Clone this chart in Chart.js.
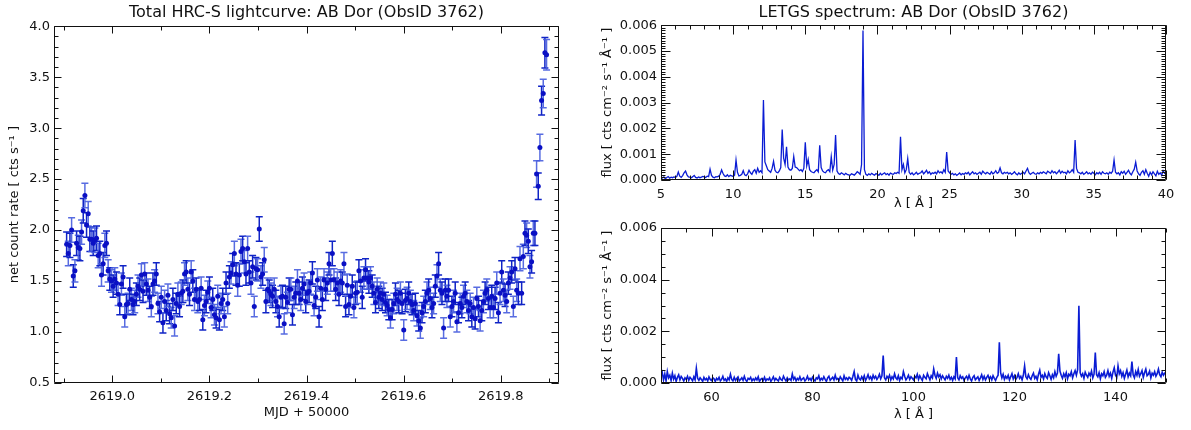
<!DOCTYPE html>
<html>
<head>
<meta charset="utf-8">
<script src="https://cdn.jsdelivr.net/npm/chart.js@4.4.1/dist/chart.umd.min.js"></script>
<style>
  body { margin: 0; background: #fff; }
  canvas { position: absolute; }
  #lc { left: 0; top: 0; }
  #specHi { left: 590px; top: 0; }
  #specLo { left: 590px; top: 215px; }
</style>
</head>
<body>
<canvas id="lc" width="590" height="430"></canvas>
<canvas id="specHi" width="601" height="215"></canvas>
<canvas id="specLo" width="601" height="215"></canvas>
<script>
const FONT = 'DejaVu Sans, sans-serif';
const INK = '#111';

// lightcurve, fixed bins starting at MJD-50000 = 2618.906
const lcStart = 2618.906;
const lcBin = 0.00342;
const lcRate = [
  1.86, 1.77, 1.85, 2.00, 1.55, 1.60, 1.87, 1.83, 1.82, 1.98,
  2.19, 2.34, 2.05, 2.16, 1.91, 1.91, 1.87, 1.90, 1.92, 1.75,
  1.77, 1.56, 1.67, 1.85, 1.87, 1.60, 1.52, 1.50, 1.45, 1.52,
  1.48, 1.37, 1.27, 1.47, 1.54, 1.15, 1.27, 1.28, 1.42, 1.32,
  1.27, 1.30, 1.37, 1.45, 1.42, 1.56, 1.40, 1.57, 1.47, 1.41,
  1.34, 1.25, 1.47, 1.50, 1.57, 1.28, 1.20, 1.34, 1.09, 1.30,
  1.21, 1.36, 1.18, 1.14, 1.32, 1.06, 1.28, 1.37, 1.25, 1.38,
  1.40, 1.57, 1.59, 1.42, 1.37, 1.59, 1.50, 1.32, 1.42, 1.30,
  1.32, 1.43, 1.12, 1.26, 1.30, 1.39, 1.43, 1.24, 1.32, 1.17,
  1.14, 1.35, 1.12, 1.28, 1.32, 1.15, 1.48, 1.28, 1.54, 1.58,
  1.66, 1.77, 1.57, 1.46, 1.56, 1.79, 1.82, 1.69, 1.57, 1.82,
  1.59, 1.48, 1.64, 1.25, 1.62, 1.61, 2.01, 1.54, 1.57, 1.71,
  1.30, 1.42, 1.40, 1.37, 1.35, 1.42, 1.30, 1.25, 1.15, 1.34,
  1.35, 1.08, 1.34, 1.29, 1.42, 1.42, 1.17, 1.34, 1.38, 1.50,
  1.38, 1.32, 1.43, 1.47, 1.30, 1.38, 1.40, 1.48, 1.58, 1.26,
  1.34, 1.51, 1.15, 1.43, 1.32, 1.51, 1.42, 1.48, 1.67, 1.51,
  1.77, 1.51, 1.42, 1.48, 1.37, 1.50, 1.48, 1.67, 1.25, 1.46,
  1.27, 1.35, 1.45, 1.24, 1.38, 1.39, 1.60, 1.50, 1.34, 1.53,
  1.61, 1.53, 1.49, 1.53, 1.45, 1.38, 1.29, 1.42, 1.34, 1.38,
  1.32, 1.37, 1.29, 1.26, 1.22, 1.14, 1.22, 1.28, 1.37, 1.32,
  1.30, 1.38, 1.28, 1.02, 1.31, 1.33, 1.38, 1.30, 1.27, 1.21,
  1.28, 1.16, 1.11, 1.04, 1.19, 1.25, 1.30, 1.38, 1.41, 1.33,
  1.24, 1.28, 1.45, 1.55, 1.67, 1.41, 1.38, 1.04, 1.41, 1.35,
  1.41, 1.15, 1.25, 1.30, 1.38, 1.10, 1.19, 1.28, 1.24, 1.35,
  1.38, 1.30, 1.21, 1.28, 1.15, 1.24, 1.13, 1.33, 1.25, 1.11,
  1.21, 1.30, 1.38, 1.41, 1.33, 1.24, 1.35, 1.24, 1.33, 1.48,
  1.19, 1.38, 1.59, 1.41, 1.36, 1.30, 1.48, 1.53, 1.59, 1.25,
  1.62, 1.41, 1.38, 1.72, 1.38, 1.74, 1.97, 1.95, 1.89, 1.64,
  1.69, 1.97, 1.97, 2.55, 2.43, 2.81, 3.27, 3.34, 3.74, 3.72
];
const lcErr = [
  0.12, 0.12, 0.12, 0.12, 0.11, 0.11, 0.12, 0.12, 0.12, 0.12,
  0.12, 0.12, 0.12, 0.12, 0.12, 0.12, 0.12, 0.12, 0.12, 0.12,
  0.12, 0.11, 0.11, 0.12, 0.12, 0.11, 0.11, 0.11, 0.11, 0.11,
  0.11, 0.11, 0.10, 0.11, 0.11, 0.10, 0.10, 0.10, 0.11, 0.11,
  0.10, 0.11, 0.11, 0.11, 0.11, 0.11, 0.11, 0.11, 0.11, 0.11,
  0.11, 0.10, 0.11, 0.11, 0.11, 0.10, 0.10, 0.11, 0.10, 0.11,
  0.10, 0.11, 0.10, 0.10, 0.11, 0.10, 0.10, 0.11, 0.10, 0.11,
  0.11, 0.11, 0.11, 0.11, 0.11, 0.11, 0.11, 0.11, 0.11, 0.11,
  0.11, 0.11, 0.10, 0.10, 0.11, 0.11, 0.11, 0.10, 0.11, 0.10,
  0.10, 0.11, 0.10, 0.10, 0.11, 0.10, 0.11, 0.10, 0.11, 0.11,
  0.11, 0.12, 0.11, 0.11, 0.11, 0.12, 0.12, 0.11, 0.11, 0.12,
  0.11, 0.11, 0.11, 0.10, 0.11, 0.11, 0.12, 0.11, 0.11, 0.12,
  0.11, 0.11, 0.11, 0.11, 0.11, 0.11, 0.11, 0.10, 0.10, 0.11,
  0.11, 0.10, 0.11, 0.10, 0.11, 0.11, 0.10, 0.11, 0.11, 0.11,
  0.11, 0.11, 0.11, 0.11, 0.11, 0.11, 0.11, 0.11, 0.11, 0.10,
  0.11, 0.11, 0.10, 0.11, 0.11, 0.11, 0.11, 0.11, 0.11, 0.11,
  0.12, 0.11, 0.11, 0.11, 0.11, 0.11, 0.11, 0.11, 0.10, 0.11,
  0.10, 0.11, 0.11, 0.10, 0.11, 0.11, 0.11, 0.11, 0.11, 0.11,
  0.11, 0.11, 0.11, 0.11, 0.11, 0.11, 0.10, 0.11, 0.11, 0.11,
  0.11, 0.11, 0.10, 0.10, 0.10, 0.10, 0.10, 0.10, 0.11, 0.11,
  0.11, 0.11, 0.10, 0.10, 0.11, 0.11, 0.11, 0.11, 0.10, 0.10,
  0.10, 0.10, 0.10, 0.10, 0.10, 0.10, 0.11, 0.11, 0.11, 0.11,
  0.10, 0.10, 0.11, 0.11, 0.11, 0.11, 0.11, 0.10, 0.11, 0.11,
  0.11, 0.10, 0.10, 0.11, 0.11, 0.10, 0.10, 0.10, 0.10, 0.11,
  0.11, 0.11, 0.10, 0.10, 0.10, 0.10, 0.10, 0.11, 0.10, 0.10,
  0.10, 0.11, 0.11, 0.11, 0.11, 0.10, 0.11, 0.10, 0.11, 0.11,
  0.10, 0.11, 0.11, 0.11, 0.11, 0.11, 0.11, 0.11, 0.11, 0.10,
  0.11, 0.11, 0.11, 0.12, 0.11, 0.12, 0.12, 0.12, 0.12, 0.11,
  0.11, 0.12, 0.12, 0.13, 0.13, 0.13, 0.14, 0.14, 0.15, 0.15
];
const lcXTicks = [2619.0, 2619.2, 2619.4, 2619.6, 2619.8];
const lcYTicks = [0.5, 1.0, 1.5, 2.0, 2.5, 3.0, 3.5, 4.0];

// LETGS spectrum, flux in units of 1e-5 cts cm^-2 s^-1 A^-1
const FLUX_UNIT = 1e-5;
const hiStart = 5.0;
const hiStep = 0.1;
const hiFlux = [
  14, 8, 12, 5, 10, 13, 7, 11, 9, 12,
  10, 14, 31, 15, 10, 17, 28, 35, 20, 12,
  11, 9, 13, 18, 10, 8, 12, 9, 11, 14,
  12, 10, 15, 13, 42, 18, 11, 9, 13, 12,
  15, 22, 39, 25, 16, 14, 20, 13, 18, 16,
  14, 19, 77, 30, 16, 18, 22, 36, 20, 17,
  24, 38, 28, 22, 34, 40, 26, 45, 30, 36,
  28, 310, 70, 55, 40, 35, 30, 45, 72, 38,
  30, 28, 35, 48, 196, 85, 60, 129, 50, 40,
  38, 45, 91, 50, 48, 42, 36, 40, 33, 45,
  146, 55, 80, 40, 33, 30, 28, 35, 40, 32,
  135, 48, 35, 30, 28, 36, 40, 32, 90, 38,
  60, 174, 35, 25, 22, 28, 24, 20, 26, 22,
  20, 18, 24, 22, 19, 25, 32, 28, 22, 60,
  579, 40, 22, 18, 24, 20, 26, 22, 19, 25,
  22, 18, 26, 20, 24, 28, 21, 25, 19, 27,
  24, 22, 28, 25, 30, 26, 168, 40, 60, 28,
  40, 83, 30, 22, 28, 20, 24, 30, 22, 26,
  28, 35, 24, 30, 38, 26, 32, 22, 28, 25,
  30, 24, 36, 28, 32, 26, 40, 30, 108, 35,
  28, 22, 26, 20, 24, 18, 22, 27, 20, 25,
  22, 28, 24, 30, 20, 26, 32, 24, 28, 22,
  26, 30, 22, 34, 28, 24, 30, 26, 22, 32,
  24, 28, 36, 26, 30, 47, 28, 24, 30, 26,
  30, 24, 28, 22, 26, 32, 24, 20, 28, 22,
  26, 30, 24, 35, 45, 28, 22, 26, 30, 24,
  22, 28, 24, 30, 26, 32, 28, 24, 34, 30,
  26, 36, 28, 32, 24, 30, 38, 26, 34, 28,
  30, 24, 36, 28, 32, 40, 30, 155, 45, 30,
  28, 24, 30, 22, 26, 32, 24, 28, 22, 30,
  26, 20, 28, 24, 30, 22, 32, 26, 24, 28,
  22, 30, 26, 34, 77, 30, 24, 28, 20, 32,
  26, 34, 22, 30, 38, 26, 20, 32, 42, 69,
  35, 24, 18, 30, 36, 22, 40, 26, 14, 30,
  20, 32, 24, 16, 34, 22, 28, 18, 36, 26,
  30
];
const loStart = 50.0;
const loStep = 0.25;
const loFlux = [
  25, 40, 12, 35, 8, 44, 20, 30, 10, 38, 15, 28, 6, 22, 32, 12, 25, 18, 8, 20,
  14, 26, 10, 22, 16, 8, 24, 12, 57, 18, 10, 20, 14, 6, 22, 12, 18, 8, 24, 14,
  10, 20, 16, 6, 18, 12, 22, 8, 14, 26, 10, 16, 6, 20, 12, 34, 14, 8, 22, 10,
  18, 24, 8, 14, 20, 10, 26, 12, 6, 18, 14, 22, 8, 16, 10, 20, 12, 24, 6, 14,
  18, 10, 22, 8, 16, 12, 20, 6, 14, 24, 10, 18, 12, 8, 22, 14, 10, 26, 16, 8,
  20, 12, 16, 10, 35, 14, 22, 8, 18, 12, 24, 10, 16, 20, 8, 14, 26, 12, 18, 10,
  22, 14, 8, 20, 16, 28, 10, 18, 12, 24, 14, 6, 20, 26, 10, 16, 22, 12, 30, 14,
  18, 10, 24, 16, 8, 28, 14, 20, 12, 22, 18, 10, 26, 44, 14, 8, 30, 16, 12, 24,
  14, 28, 10, 20, 32, 16, 24, 12, 30, 18, 26, 14, 22, 34, 16, 28, 106, 20, 12, 26,
  18, 30, 12, 24, 16, 36, 20, 14, 28, 10, 22, 16, 44, 26, 12, 20, 30, 14, 24, 18,
  12, 26, 20, 34, 14, 28, 18, 10, 30, 22, 16, 36, 24, 12, 28, 20, 54, 30, 18, 38,
  24, 32, 16, 28, 20, 12, 26, 18, 30, 14, 22, 10, 24, 16, 100, 20, 12, 28, 18, 24,
  10, 20, 26, 14, 30, 16, 8, 22, 28, 12, 18, 24, 10, 20, 32, 14, 26, 12, 22, 30,
  16, 24, 12, 28, 18, 10, 22, 30, 158, 40, 20, 34, 14, 26, 18, 30, 12, 24, 36, 16,
  28, 14, 22, 36, 18, 26, 12, 30, 66, 24, 16, 32, 20, 14, 28, 38, 18, 26, 12, 34,
  50, 22, 30, 16, 36, 24, 18, 40, 28, 14, 32, 20, 44, 26, 38, 113, 46, 30, 18, 36,
  24, 40, 16, 34, 28, 44, 20, 36, 48, 30, 52, 299, 40, 26, 36, 18, 42, 30, 22, 38,
  28, 46, 20, 34, 118, 32, 24, 40, 16, 36, 28, 44, 22, 30, 48, 26, 38, 18, 42, 59,
  30, 22, 66, 36, 48, 26, 40, 18, 34, 50, 24, 38, 28, 83, 32, 20, 44, 30, 52, 26,
  36, 48, 22, 40, 54, 28, 34, 46, 20, 38, 30, 44, 26, 36, 54, 32, 24, 42, 30, 38,
  44
];
const hiXTicks = [5, 10, 15, 20, 25, 30, 35, 40];
const hiYTicks = [0, 0.001, 0.002, 0.003, 0.004, 0.005, 0.006];
const loXTicks = [60, 80, 100, 120, 140];
const loYTicks = [0, 0.002, 0.004, 0.006];

const lcTimes = lcRate.map((_, i) => lcStart + i * lcBin);
const hiWave = hiFlux.map((_, i) => hiStart + i * hiStep);
const loWave = loFlux.map((_, i) => loStart + i * loStep);

const tickFont = { family: FONT, size: 13 };

// IDL style box: frame on all four sides, ticks pointing inward
const idlFrame = {
  id: 'idlFrame',
  afterDatasetsDraw(chart, args, opts) {
    const { ctx, chartArea: a, scales: { x, y } } = chart;
    const L = Math.round(a.left) + 0.5, R = Math.round(a.right) - 0.5;
    const T = Math.round(a.top) + 0.5, B = Math.round(a.bottom) - 0.5;
    const minors = (s, step) => {
      const out = [];
      for (let k = Math.ceil(s.min / step - 1e-6); k * step <= s.max + 1e-9; k++) out.push(k * step);
      return out;
    };
    ctx.save();
    ctx.strokeStyle = INK;
    ctx.lineWidth = 1;
    ctx.beginPath();
    ctx.rect(L, T, R - L, B - T);
    const xt = (v, len) => {
      const p = Math.round(x.getPixelForValue(v)) + 0.5;
      ctx.moveTo(p, B); ctx.lineTo(p, B - len);
      ctx.moveTo(p, T); ctx.lineTo(p, T + len);
    };
    const yt = (v, len) => {
      const p = Math.round(y.getPixelForValue(v)) + 0.5;
      ctx.moveTo(L, p); ctx.lineTo(L + len, p);
      ctx.moveTo(R, p); ctx.lineTo(R - len, p);
    };
    minors(x, opts.xMinor).forEach(v => xt(v, opts.minor));
    minors(y, opts.yMinor).forEach(v => yt(v, opts.minor));
    x.ticks.forEach(t => xt(t.value, opts.major));
    y.ticks.forEach(t => yt(t.value, opts.major));
    ctx.stroke();
    ctx.restore();
  }
};

const errorBars = {
  id: 'errorBars',
  beforeDatasetsDraw(chart) {
    const { ctx, chartArea: a, scales: { x, y } } = chart;
    ctx.save();
    ctx.beginPath();
    ctx.rect(a.left, a.top, a.width, a.height);
    ctx.clip();
    ctx.lineWidth = 1.5;
    lcRate.forEach((r, i) => {
      const px = x.getPixelForValue(lcTimes[i]);
      const lo = y.getPixelForValue(r - lcErr[i]);
      const hi = y.getPixelForValue(r + lcErr[i]);
      ctx.strokeStyle = i % 2 ? 'rgba(70,92,222,0.9)' : '#1024c6';
      ctx.beginPath();
      ctx.moveTo(px, lo); ctx.lineTo(px, hi);
      ctx.moveTo(px - 3.5, lo); ctx.lineTo(px + 3.5, lo);
      ctx.moveTo(px - 3.5, hi); ctx.lineTo(px + 3.5, hi);
      ctx.stroke();
    });
    ctx.restore();
  }
};

function axis(o) {
  return {
    type: 'linear',
    min: o.min,
    max: o.max,
    afterBuildTicks: s => { s.ticks = o.ticks.map(v => ({ value: v })); },
    afterFit: s => { if (o.width) s.width = o.width; if (o.height) s.height = o.height; },
    grid: { display: false, drawTicks: false },
    border: { display: false },
    ticks: {
      font: tickFont, color: INK, padding: o.pad, autoSkip: false, maxRotation: 0,
      callback: o.fmt
    },
    title: {
      display: true, text: o.title, font: tickFont, color: INK,
      padding: o.titlePad
    }
  };
}

function baseOptions(pad, title, titlePad, frame) {
  return {
    responsive: false,
    animation: false,
    events: [],
    layout: { padding: pad },
    plugins: {
      legend: { display: false },
      tooltip: { enabled: false },
      title: {
        display: !!title, text: title, fullSize: false, color: INK,
        font: { family: FONT, size: 16, weight: 'normal' }, padding: titlePad
      },
      idlFrame: frame
    }
  };
}

// lightcurve
const lcOpts = baseOptions({ left: 0, right: 31, top: 0, bottom: 0 },
  'Total HRC-S lightcurve: AB Dor (ObsID 3762)', { top: 3, bottom: 4 },
  { xMinor: 0.1, yMinor: 0.1, major: 7, minor: 4 });
lcOpts.scales = {
  x: axis({ min: 2618.88, max: 2619.92, ticks: lcXTicks, height: 47, pad: 6,
    fmt: v => v.toFixed(1), title: 'MJD + 50000', titlePad: { top: 0, bottom: 10 } }),
  y: axis({ min: 0.5, max: 4.0, ticks: lcYTicks, width: 54, pad: 4,
    fmt: v => v.toFixed(1), title: 'net count rate [ cts s\u207B\u00B9 ]', titlePad: { top: 7, bottom: 0 } })
};
new Chart(document.getElementById('lc'), {
  type: 'scatter',
  data: {
    datasets: [{
      data: lcTimes.map((t, i) => ({ x: t, y: lcRate[i] })),
      pointRadius: 2.5,
      pointBackgroundColor: '#0a10c4',
      pointBorderWidth: 0,
      showLine: false
    }]
  },
  options: lcOpts,
  plugins: [errorBars, idlFrame]
});

const fluxTitle = 'flux [ cts cm\u207B\u00B2 s\u207B\u00B9 \u00C5\u207B\u00B9 ]';
const waveTitle = '\u03BB [ \u00C5 ]';
const fluxFmt = v => v.toFixed(3);

function specData(wave, flux, width) {
  return {
    datasets: [{
      data: wave.map((w, i) => ({ x: w, y: flux[i] * FLUX_UNIT })),
      borderColor: '#0a1cd4',
      borderWidth: width,
      pointRadius: 0,
      tension: 0
    }]
  };
}

// spectrum 5-40 A
const hiOpts = baseOptions({ left: 0, right: 25, top: 0, bottom: 0 },
  'LETGS spectrum: AB Dor (ObsID 3762)', { top: 3, bottom: 3 },
  { xMinor: 1, yMinor: 0.0001, major: 9, minor: 4 });
hiOpts.scales = {
  x: axis({ min: 5, max: 40, ticks: hiXTicks, height: 35, pad: 7,
    fmt: v => String(v), title: waveTitle, titlePad: { top: 0, bottom: 4 } }),
  y: axis({ min: 0, max: 0.006, ticks: hiYTicks, width: 71, pad: 4,
    fmt: fluxFmt, title: fluxTitle, titlePad: { top: 10, bottom: 0 } })
};
new Chart(document.getElementById('specHi'), {
  type: 'line', data: specData(hiWave, hiFlux, 1.3), options: hiOpts, plugins: [idlFrame]
});

// spectrum 50-150 A
const loOpts = baseOptions({ left: 0, right: 25, top: 13, bottom: 0 },
  '', { top: 0, bottom: 0 },
  { xMinor: 5, yMinor: 0.0005, major: 8, minor: 4 });
loOpts.scales = {
  x: axis({ min: 50, max: 150, ticks: loXTicks, height: 47, pad: 7,
    fmt: v => String(v), title: waveTitle, titlePad: { top: 0, bottom: 8 } }),
  y: axis({ min: 0, max: 0.006, ticks: loYTicks, width: 71, pad: 4,
    fmt: fluxFmt, title: fluxTitle, titlePad: { top: 10, bottom: 0 } })
};
new Chart(document.getElementById('specLo'), {
  type: 'line', data: specData(loWave, loFlux, 1.6), options: loOpts, plugins: [idlFrame]
});
</script>
</body>
</html>
